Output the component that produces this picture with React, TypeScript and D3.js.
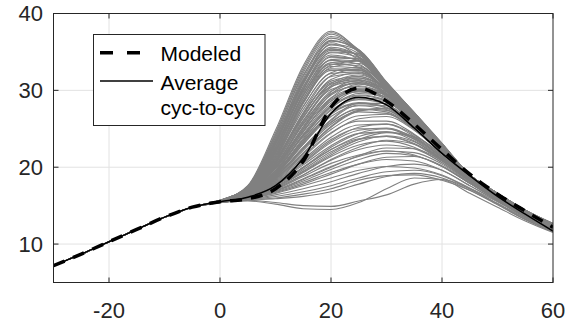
import React from "react";
import * as d3 from "d3";

// shared part of every curve (x = -30 .. -5)
const baseX = [-30, -25, -20, -15, -10, -5];
const baseY = [7.2, 8.7, 10.3, 11.9, 13.5, 14.8];

// x positions for the divergent part
const curveX = [0, 5, 10, 15, 20, 25, 30, 35, 40, 45, 50, 55, 60];

const modeled = [15.5, 15.9, 17.2, 20.8, 27.8, 30.3, 28.6, 25.6, 22.3, 19.1, 16.5, 14.3, 12.2];
const average = [15.5, 16.1, 17.6, 21.2, 27.0, 29.1, 28.1, 25.1, 21.8, 18.9, 16.2, 13.9, 11.7];

// cycle-to-cycle curves (values at curveX)
const cycles: number[][] = [
  [15.7, 17.6, 24.8, 33.2, 37.7, 35.0, 30.8, 27.1, 23.1, 19.0, 16.6, 14.4, 12.7],
  [15.7, 17.5, 24.3, 32.6, 37.3, 35.0, 30.7, 27.0, 23.0, 19.0, 16.6, 14.4, 12.6],
  [15.7, 17.4, 23.6, 31.8, 36.8, 35.1, 30.9, 27.0, 23.0, 19.0, 16.6, 14.3, 12.6],
  [15.7, 17.5, 24.1, 32.0, 36.2, 34.3, 30.4, 26.8, 22.9, 19.0, 16.5, 14.3, 12.6],
  [15.6, 17.3, 23.2, 31.2, 35.9, 34.8, 30.8, 26.9, 22.9, 18.9, 16.5, 14.3, 12.5],
  [15.7, 17.4, 23.8, 31.3, 35.4, 34.0, 30.3, 26.7, 22.9, 19.0, 16.6, 14.4, 12.6],
  [15.6, 17.2, 22.6, 30.4, 35.2, 34.6, 30.9, 27.0, 23.0, 19.0, 16.5, 14.3, 12.5],
  [15.6, 17.3, 23.0, 30.5, 34.6, 33.8, 30.4, 26.8, 22.9, 19.0, 16.5, 14.3, 12.5],
  [15.6, 17.1, 22.1, 29.6, 34.3, 34.1, 30.8, 27.0, 23.0, 19.0, 16.6, 14.4, 12.6],
  [15.6, 17.2, 22.6, 29.8, 33.9, 33.4, 30.2, 26.6, 22.8, 19.0, 16.5, 14.3, 12.5],
  [15.6, 17.0, 21.6, 28.9, 33.6, 33.9, 30.9, 27.0, 23.0, 19.0, 16.5, 14.3, 12.5],
  [15.6, 17.1, 22.0, 29.0, 33.1, 32.9, 30.0, 26.5, 22.8, 18.9, 16.5, 14.3, 12.5],
  [15.6, 16.9, 21.2, 28.3, 33.0, 33.5, 30.7, 26.9, 22.9, 19.0, 16.5, 14.3, 12.5],
  [15.6, 17.0, 21.6, 28.4, 32.6, 32.6, 29.9, 26.5, 22.7, 18.9, 16.5, 14.3, 12.4],
  [15.6, 17.2, 22.8, 30.2, 34.9, 34.3, 30.5, 26.8, 22.9, 19.0, 16.6, 14.4, 12.6],
  [15.7, 17.3, 23.4, 31.0, 36.4, 35.3, 31.0, 27.0, 23.0, 19.0, 16.6, 14.4, 12.6],
  [15.6, 17.1, 22.3, 29.4, 33.6, 33.0, 29.9, 26.5, 22.8, 18.9, 16.5, 14.3, 12.5],
  [15.6, 17.3, 23.1, 30.8, 35.6, 34.4, 30.5, 26.8, 22.9, 19.0, 16.5, 14.3, 12.5],
  [15.6, 17.0, 21.2, 27.5, 31.8, 32.2, 29.9, 26.4, 22.7, 18.9, 16.5, 14.3, 12.5],
  [15.6, 16.9, 20.6, 26.8, 31.4, 32.3, 30.2, 26.6, 22.8, 18.9, 16.5, 14.3, 12.5],
  [15.6, 17.0, 21.0, 27.0, 31.0, 31.6, 29.6, 26.2, 22.6, 18.9, 16.5, 14.3, 12.5],
  [15.6, 16.8, 20.2, 26.0, 30.6, 31.8, 30.1, 26.5, 22.7, 18.9, 16.4, 14.2, 12.4],
  [15.6, 16.9, 20.5, 26.1, 30.1, 30.9, 29.4, 26.1, 22.5, 18.9, 16.4, 14.2, 12.4],
  [15.6, 16.8, 19.9, 25.3, 29.8, 31.3, 30.0, 26.4, 22.6, 18.9, 16.4, 14.2, 12.4],
  [15.6, 16.8, 20.0, 25.0, 29.0, 30.2, 29.0, 25.9, 22.4, 18.9, 16.4, 14.2, 12.4],
  [15.6, 16.7, 19.6, 24.6, 29.0, 30.8, 29.8, 26.3, 22.6, 18.9, 16.4, 14.2, 12.4],
  [15.6, 16.8, 19.9, 24.8, 28.6, 29.8, 28.8, 25.8, 22.3, 18.9, 16.4, 14.2, 12.4],
  [15.6, 16.7, 19.4, 24.1, 28.3, 30.1, 29.4, 26.1, 22.5, 18.9, 16.4, 14.2, 12.4],
  [15.5, 16.7, 19.5, 24.0, 27.8, 29.3, 28.6, 25.7, 22.3, 18.8, 16.4, 14.2, 12.3],
  [15.5, 16.6, 19.2, 23.6, 27.6, 29.6, 29.2, 26.0, 22.4, 18.9, 16.4, 14.2, 12.4],
  [15.6, 16.9, 20.3, 25.6, 29.9, 31.0, 29.5, 26.1, 22.5, 18.9, 16.4, 14.2, 12.4],
  [15.6, 16.8, 20.0, 25.2, 29.4, 30.6, 29.3, 26.0, 22.5, 18.9, 16.4, 14.2, 12.4],
  [15.5, 16.6, 19.1, 23.3, 27.1, 28.9, 28.5, 25.7, 22.3, 18.8, 16.3, 14.1, 12.3],
  [15.6, 17.0, 20.8, 26.5, 30.8, 31.4, 29.6, 26.2, 22.6, 18.9, 16.5, 14.3, 12.5],
  [15.5, 16.6, 19.0, 23.0, 26.6, 28.0, 27.5, 25.2, 22.0, 18.8, 16.3, 14.1, 12.3],
  [15.5, 16.6, 18.8, 22.6, 26.1, 28.1, 28.0, 25.5, 22.2, 18.8, 16.3, 14.1, 12.3],
  [15.5, 16.5, 18.6, 22.2, 25.6, 27.2, 27.0, 24.9, 21.8, 18.7, 16.3, 14.1, 12.3],
  [15.5, 16.5, 18.5, 21.9, 25.3, 27.4, 27.6, 25.3, 22.0, 18.8, 16.3, 14.1, 12.3],
  [15.5, 16.4, 18.3, 21.5, 24.5, 26.0, 26.0, 24.3, 21.5, 18.6, 16.2, 14.0, 12.2],
  [15.5, 16.4, 18.2, 21.3, 24.4, 26.3, 26.6, 24.8, 21.8, 18.7, 16.2, 14.0, 12.2],
  [15.5, 16.4, 18.1, 21.0, 23.9, 25.5, 25.6, 24.0, 21.3, 18.5, 16.2, 14.0, 12.2],
  [15.5, 16.3, 17.9, 20.6, 23.4, 25.2, 25.6, 24.2, 21.5, 18.6, 16.2, 14.0, 12.2],
  [15.5, 16.3, 17.8, 20.3, 22.8, 24.4, 24.6, 23.4, 21.0, 18.4, 16.1, 13.9, 12.1],
  [15.5, 16.2, 17.7, 20.0, 22.3, 23.7, 24.0, 23.0, 20.8, 18.3, 16.0, 13.9, 12.1],
  [15.5, 16.3, 17.7, 20.0, 22.6, 24.4, 25.0, 23.9, 21.4, 18.6, 16.1, 14.0, 12.2],
  [15.5, 16.2, 17.5, 19.7, 22.0, 23.6, 24.0, 23.1, 20.9, 18.3, 16.0, 13.9, 12.1],
  [15.5, 16.5, 18.7, 22.4, 25.8, 27.6, 27.4, 25.1, 21.9, 18.7, 16.3, 14.1, 12.3],
  [15.5, 16.6, 19.2, 23.4, 27.0, 28.4, 27.8, 25.3, 22.0, 18.8, 16.3, 14.1, 12.3],
  [15.5, 16.4, 18.4, 21.7, 24.9, 26.7, 26.9, 25.0, 21.9, 18.7, 16.2, 14.0, 12.2],
  [15.5, 16.3, 18.0, 20.8, 23.6, 25.0, 25.0, 23.6, 21.1, 18.4, 16.1, 14.0, 12.1],
  [15.5, 16.1, 17.3, 19.3, 21.4, 22.9, 23.4, 22.6, 20.6, 18.2, 15.9, 13.8, 12.0],
  [15.5, 16.0, 17.1, 18.8, 20.5, 21.6, 22.1, 21.6, 20.1, 17.9, 15.8, 13.7, 12.0],
  [15.5, 16.1, 17.2, 19.0, 21.0, 22.6, 23.5, 23.0, 21.0, 18.3, 15.9, 13.8, 12.0],
  [15.5, 16.0, 17.0, 18.5, 20.1, 21.4, 22.1, 21.9, 20.4, 18.0, 15.8, 13.7, 12.0],
  [15.4, 15.9, 16.8, 18.0, 19.3, 20.4, 21.0, 20.8, 19.6, 17.6, 15.6, 13.6, 11.9],
  [15.4, 15.9, 16.7, 17.8, 19.1, 20.4, 21.3, 21.4, 20.2, 17.9, 15.7, 13.7, 11.9],
  [15.4, 15.9, 16.6, 17.6, 18.6, 19.6, 20.1, 19.9, 19.0, 17.3, 15.5, 13.5, 11.8],
  [15.4, 15.8, 16.4, 17.2, 18.1, 19.2, 20.1, 20.4, 19.6, 17.6, 15.6, 13.6, 11.8],
  [15.4, 16.0, 16.9, 18.2, 19.7, 21.0, 21.8, 21.5, 20.1, 17.9, 15.7, 13.7, 11.9],
  [15.5, 16.1, 17.4, 19.4, 21.6, 23.3, 24.1, 23.3, 21.0, 18.3, 15.9, 13.8, 12.0],
  [15.4, 15.6, 15.2, 14.6, 14.5, 15.4, 17.2, 18.6, 18.4, 16.6, 14.8, 13.0, 11.5],
  [15.4, 15.7, 15.4, 15.0, 14.9, 15.6, 16.4, 17.8, 18.4, 17.2, 15.2, 13.2, 11.6],
  [15.4, 15.8, 16.0, 16.5, 17.2, 18.3, 18.9, 19.0, 18.3, 17.0, 15.1, 13.2, 11.6],
  [15.4, 15.7, 15.9, 16.2, 16.8, 17.8, 18.8, 19.2, 18.6, 17.0, 15.2, 13.3, 11.6],
  [15.4, 15.8, 16.2, 16.8, 17.6, 18.6, 19.4, 19.6, 18.9, 17.2, 15.3, 13.4, 11.7],
  [15.7, 17.5, 24.5, 32.9, 37.5, 35.2, 30.9, 27.1, 23.1, 19.0, 16.6, 14.4, 12.7],
  [15.7, 17.4, 23.9, 32.3, 37.0, 35.3, 31.0, 27.1, 23.0, 19.0, 16.6, 14.4, 12.6],
  [15.6, 17.3, 23.4, 31.5, 36.5, 35.0, 30.9, 27.0, 23.0, 19.0, 16.6, 14.4, 12.6],
  [15.6, 17.2, 23.0, 31.0, 36.0, 35.2, 31.1, 27.1, 23.0, 19.0, 16.6, 14.4, 12.6],
  [15.6, 17.3, 23.3, 30.9, 35.4, 34.6, 30.8, 26.9, 22.9, 19.0, 16.5, 14.3, 12.5],
  [15.6, 17.1, 22.4, 30.0, 35.0, 34.8, 31.0, 27.0, 23.0, 19.0, 16.5, 14.3, 12.5],
  [15.6, 17.2, 22.6, 30.1, 34.4, 33.9, 30.6, 26.9, 22.9, 19.0, 16.5, 14.3, 12.5],
  [15.6, 17.0, 21.9, 29.3, 34.0, 34.2, 31.0, 27.0, 23.0, 19.0, 16.5, 14.3, 12.5],
  [15.6, 17.1, 22.2, 29.3, 33.4, 33.2, 30.2, 26.7, 22.8, 19.0, 16.5, 14.3, 12.5],
  [15.6, 16.9, 21.4, 28.6, 33.3, 33.8, 30.9, 27.0, 22.9, 19.0, 16.5, 14.3, 12.5],
  [15.6, 17.0, 21.8, 28.6, 32.8, 32.7, 29.9, 26.6, 22.8, 18.9, 16.5, 14.3, 12.5],
  [15.6, 16.9, 21.0, 27.9, 32.3, 33.0, 30.6, 26.9, 22.9, 19.0, 16.5, 14.3, 12.5],
  [15.6, 17.0, 21.4, 27.9, 32.2, 32.4, 30.0, 26.5, 22.7, 18.9, 16.5, 14.3, 12.5],
  [15.6, 16.8, 20.6, 27.1, 31.9, 32.8, 30.6, 26.8, 22.8, 18.9, 16.5, 14.3, 12.5],
  [15.6, 16.9, 20.9, 26.9, 31.2, 31.8, 29.8, 26.4, 22.7, 18.9, 16.5, 14.3, 12.5],
  [15.6, 16.8, 20.4, 26.4, 30.9, 32.0, 30.3, 26.7, 22.8, 18.9, 16.4, 14.2, 12.4],
  [15.6, 16.9, 20.7, 26.6, 30.5, 31.2, 29.5, 26.2, 22.6, 18.9, 16.4, 14.2, 12.4],
  [15.6, 16.7, 20.0, 25.8, 30.4, 31.6, 30.2, 26.6, 22.7, 18.9, 16.4, 14.2, 12.4],
  [15.6, 16.8, 20.2, 25.6, 29.6, 30.5, 29.2, 26.0, 22.5, 18.9, 16.4, 14.2, 12.4],
  [15.6, 16.7, 19.8, 25.0, 29.5, 31.0, 30.0, 26.5, 22.7, 18.9, 16.4, 14.2, 12.4],
  [15.6, 16.8, 19.8, 24.6, 28.8, 30.0, 29.0, 25.9, 22.4, 18.9, 16.4, 14.2, 12.4],
  [15.5, 16.6, 19.3, 24.3, 28.6, 30.3, 29.6, 26.2, 22.5, 18.9, 16.4, 14.2, 12.4],
  [15.5, 16.7, 19.6, 24.2, 28.0, 29.4, 28.7, 25.7, 22.3, 18.8, 16.4, 14.2, 12.3],
  [15.5, 16.6, 19.1, 23.8, 28.0, 29.9, 29.5, 26.2, 22.5, 18.9, 16.4, 14.2, 12.4],
  [15.5, 16.6, 19.3, 23.6, 27.4, 28.8, 28.2, 25.5, 22.2, 18.8, 16.3, 14.1, 12.3],
  [15.5, 16.5, 18.9, 23.0, 27.0, 29.0, 28.8, 25.9, 22.4, 18.8, 16.3, 14.1, 12.3],
  [15.5, 16.6, 19.0, 23.2, 26.9, 28.3, 27.7, 25.2, 22.0, 18.8, 16.3, 14.1, 12.3],
  [15.5, 16.5, 18.7, 22.5, 26.2, 28.3, 28.3, 25.7, 22.3, 18.8, 16.3, 14.1, 12.3],
  [15.5, 16.5, 18.8, 22.4, 25.9, 27.5, 27.2, 25.0, 21.9, 18.7, 16.3, 14.1, 12.3],
  [15.5, 16.4, 18.5, 21.8, 25.2, 27.3, 27.7, 25.6, 22.2, 18.8, 16.3, 14.1, 12.2],
  [15.5, 16.2, 17.6, 19.9, 22.3, 24.0, 24.6, 23.7, 21.3, 18.5, 16.1, 14.0, 12.1],
  [15.5, 16.3, 17.9, 20.5, 23.2, 24.8, 25.1, 23.8, 21.2, 18.5, 16.1, 14.0, 12.1],
  [15.5, 16.1, 17.4, 19.5, 21.8, 23.6, 24.5, 24.0, 21.7, 18.6, 16.1, 14.0, 12.1],
  [15.5, 16.0, 17.2, 19.0, 20.9, 22.3, 22.9, 22.4, 20.6, 18.1, 15.9, 13.8, 12.0],
  [15.4, 15.9, 16.9, 18.4, 20.0, 21.5, 22.5, 22.4, 20.8, 18.2, 15.9, 13.8, 12.0],
];

const xTicks = [-20, 0, 20, 40, 60];
const xTickLabels = ["-20", "0", "20", "40", "60"];
const yTicks = [10, 20, 30, 40];
const yTickLabels = ["10", "20", "30", "40"];
const legendLabels = ["Modeled", "Average", "cyc-to-cyc"];

const W = 578;
const H = 329;
const L = 53.5, R = 553, T = 13.5, B = 282.5;
const FONT = "'Liberation Sans', Arial, Helvetica, sans-serif";
const AX = "#262626";

export default function App() {
  const x = d3.scaleLinear().domain([-30, 60]).range([L, R]);
  const y = d3.scaleLinear().domain([5, 40]).range([B, T]);
  const line = d3
    .line<[number, number]>()
    .x((d) => x(d[0]))
    .y((d) => y(d[1]))
    .curve(d3.curveMonotoneX);
  const toPts = (vals: number[]): [number, number][] => [
    ...baseX.map((v, i) => [v, baseY[i]] as [number, number]),
    ...curveX.map((v, i) => [v, vals[i]] as [number, number]),
  ];
  const gridX = [-20, 0, 20, 40];
  const gridY = [10, 20, 30];
  return (
    <svg
      width={W}
      height={H}
      style={{ position: "absolute", left: 0, top: 0, background: "#fff" }}
      fontFamily={FONT}
    >
      <rect x={0} y={0} width={W} height={H} fill="#fff" />
      <defs>
        <clipPath id="plot">
          <rect x={L} y={T} width={R - L} height={B - T} />
        </clipPath>
      </defs>
      {gridX.map((t) => (
        <line key={"gx" + t} x1={x(t)} x2={x(t)} y1={T} y2={B} stroke="#e2e2e2" strokeWidth={1} />
      ))}
      {gridY.map((t) => (
        <line key={"gy" + t} x1={L} x2={R} y1={y(t)} y2={y(t)} stroke="#e2e2e2" strokeWidth={1} />
      ))}
      <g clipPath="url(#plot)" fill="none">
        {cycles.map((c, i) => (
          <path key={i} d={line(toPts(c)) || ""} stroke="#808080" strokeWidth={1.1} />
        ))}
        <path d={line(toPts(modeled)) || ""} stroke="#000" strokeWidth={3.5} strokeDasharray="12,9" />
        <path d={line(toPts(average)) || ""} stroke="#000" strokeWidth={1.5} />
      </g>
      <rect x={L} y={T} width={R - L} height={B - T} fill="none" stroke={AX} strokeWidth={1} />
      {xTicks.map((t) => (
        <g key={"xt" + t}>
          <line x1={x(t)} x2={x(t)} y1={B} y2={B - 5} stroke={AX} />
          <line x1={x(t)} x2={x(t)} y1={T} y2={T + 5} stroke={AX} />
        </g>
      ))}
      {yTicks.map((t) => (
        <g key={"yt" + t}>
          <line x1={L} x2={L + 5} y1={y(t)} y2={y(t)} stroke={AX} />
          <line x1={R} x2={R - 5} y1={y(t)} y2={y(t)} stroke={AX} />
        </g>
      ))}
      {xTicks.map((t, i) => (
        <text key={"xl" + t} x={x(t)} y={318} textAnchor="middle" fontSize={22} fill={AX}>
          {xTickLabels[i]}
        </text>
      ))}
      {yTicks.map((t, i) => (
        <text key={"yl" + t} x={43} y={y(t) + 7.8} textAnchor="end" fontSize={22} fill={AX}>
          {yTickLabels[i]}
        </text>
      ))}
      <g>
        <rect x={93.5} y={34.5} width={171.5} height={91} fill="#fff" stroke={AX} strokeWidth={1} />
        <line x1={100} x2={153} y1={52.7} y2={52.7} stroke="#000" strokeWidth={3.5} strokeDasharray="13,14" />
        <line x1={100} x2={153} y1={81} y2={81} stroke="#000" strokeWidth={1.5} />
        <text x={160.5} y={60.7} fontSize={21} fill="#000">{legendLabels[0]}</text>
        <text x={160.5} y={90} fontSize={21} fill="#000">{legendLabels[1]}</text>
        <text x={160.5} y={115} fontSize={21} fill="#000">{legendLabels[2]}</text>
      </g>
    </svg>
  );
}
